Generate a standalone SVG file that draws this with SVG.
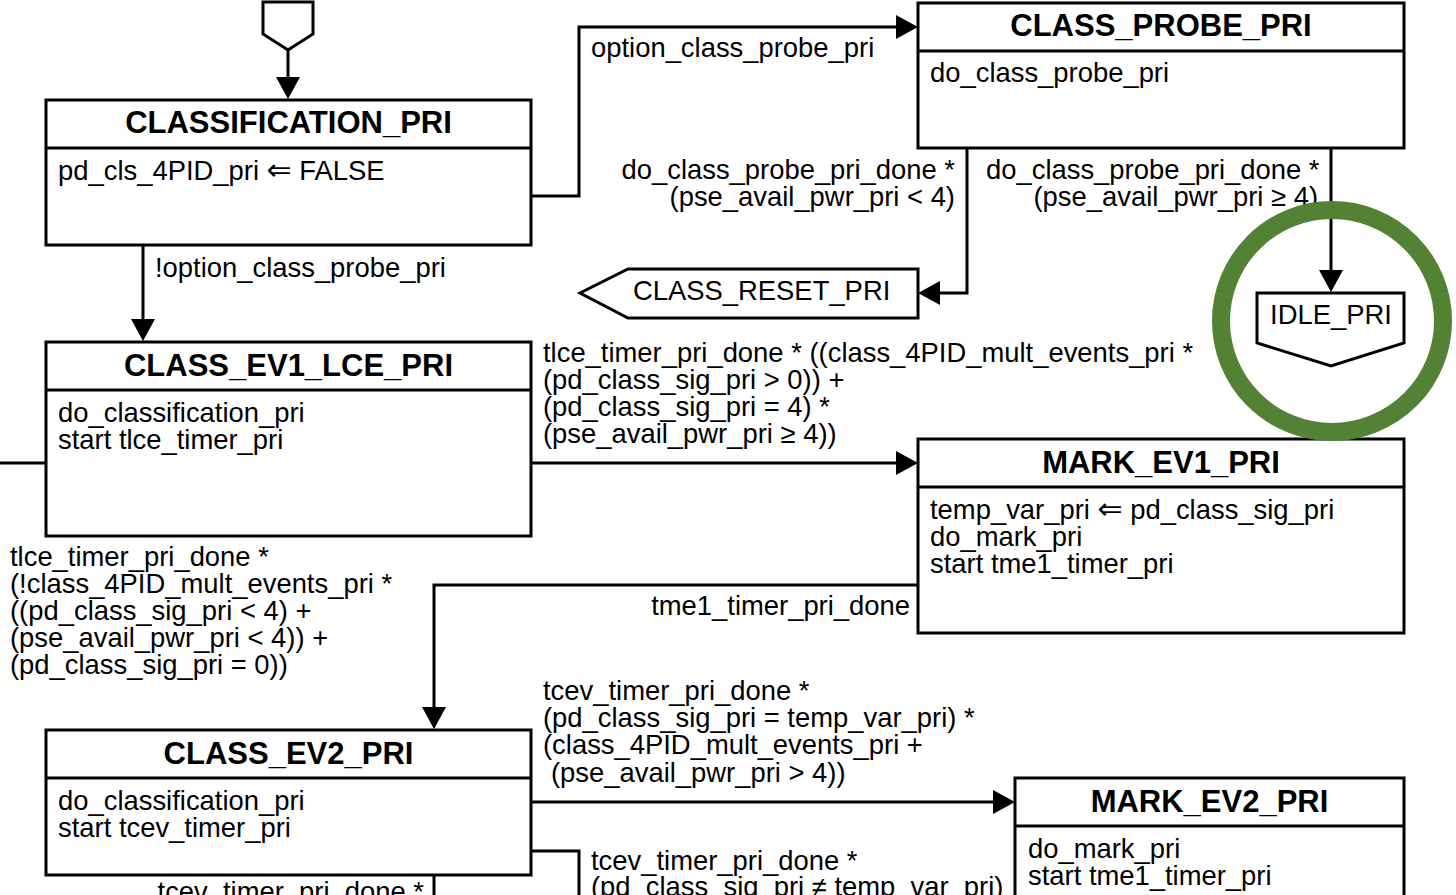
<svg xmlns="http://www.w3.org/2000/svg" width="1456" height="895" viewBox="0 0 1456 895">
<defs>
<style>
.box{fill:#fff;stroke:#000;stroke-width:3}
.dv{fill:none;stroke:#000;stroke-width:3}
.t{font-family:"Liberation Sans",Arial,Helvetica,sans-serif;font-size:31px;font-weight:bold;text-anchor:middle;fill:#000}
.b{font-family:"Liberation Sans",Arial,Helvetica,"DejaVu Sans",sans-serif;font-size:27.4px;fill:#000}
.e{text-anchor:end}
.c{fill:none;stroke:#000;stroke-width:3}
.a{marker-end:url(#ah)}
.ar{font-family:"DejaVu Sans",sans-serif;font-size:30px}
</style>
<marker id="ah" markerUnits="userSpaceOnUse" markerWidth="22" markerHeight="24" refX="12" refY="12" orient="auto" viewBox="0 0 22 24">
<path d="M0,0 L22,12 L0,24 Z" fill="#000"/>
</marker>
</defs>
<rect width="1456" height="895" fill="#fff"/>

<g id="entry">
<polygon class="box" points="263,2 313,2 313,34 288,50 263,34"/>
</g>

<g id="classification_pri">
<rect class="box" x="46" y="100" width="485" height="145"/>
<line class="dv" x1="46" y1="148" x2="531" y2="148"/>
<text class="t" x="288.5" y="133">CLASSIFICATION_PRI</text>
<text class="b" x="58" y="180">pd_cls_4PID_pri <tspan class="ar">⇐</tspan> FALSE</text>
</g>

<g id="class_probe_pri">
<rect class="box" x="918" y="3" width="486" height="145"/>
<line class="dv" x1="918" y1="51" x2="1404" y2="51"/>
<text class="t" x="1161" y="36">CLASS_PROBE_PRI</text>
<text class="b" x="930" y="82">do_class_probe_pri</text>
</g>

<g id="class_reset_pri">
<polygon class="box" points="580,293 628,269 918,269 918,318 628,318"/>
<text class="b" x="633" y="300">CLASS_RESET_PRI</text>
</g>

<g id="idle_pri">
<polygon class="box" points="1257,293 1404,293 1404,343 1331,366 1257,343"/>
<text class="b" x="1331" y="324" text-anchor="middle">IDLE_PRI</text>
</g>

<g id="class_ev1_lce_pri">
<rect class="box" x="46" y="342" width="485" height="194"/>
<line class="dv" x1="46" y1="390" x2="531" y2="390"/>
<text class="t" x="288.5" y="376">CLASS_EV1_LCE_PRI</text>
<text class="b" x="58" y="422">do_classification_pri</text>
<text class="b" x="58" y="449">start tlce_timer_pri</text>
</g>

<g id="mark_ev1_pri">
<rect class="box" x="918" y="439" width="486" height="194"/>
<line class="dv" x1="918" y1="487" x2="1404" y2="487"/>
<text class="t" x="1161" y="473">MARK_EV1_PRI</text>
<text class="b" x="930" y="519">temp_var_pri <tspan class="ar">⇐</tspan> pd_class_sig_pri</text>
<text class="b" x="930" y="546">do_mark_pri</text>
<text class="b" x="930" y="573">start tme1_timer_pri</text>
</g>

<g id="class_ev2_pri">
<rect class="box" x="46" y="730" width="485" height="145"/>
<line class="dv" x1="46" y1="778" x2="531" y2="778"/>
<text class="t" x="288.5" y="764">CLASS_EV2_PRI</text>
<text class="b" x="58" y="810">do_classification_pri</text>
<text class="b" x="58" y="837">start tcev_timer_pri</text>
</g>

<g id="mark_ev2_pri">
<rect class="box" x="1015" y="778" width="389" height="140"/>
<line class="dv" x1="1015" y1="826" x2="1404" y2="826"/>
<text class="t" x="1209.5" y="812">MARK_EV2_PRI</text>
<text class="b" x="1028" y="858">do_mark_pri</text>
<text class="b" x="1028" y="885">start tme1_timer_pri</text>
</g>

<g id="connectors">
<path class="c a" d="M288,50 V89"/>
<path class="c a" d="M531,196 H579 V27 H908"/>
<path class="c a" d="M143,245 V331"/>
<path class="c a" d="M967,148 V293 H928"/>
<path class="c a" d="M1331,148 V282"/>
<path class="c a" d="M531,463 H908"/>
<path class="c" d="M0,463 H46"/>
<path class="c a" d="M918,585 H434 V719"/>
<path class="c a" d="M531,802 H1005"/>
<path class="c" d="M531,851 H579 V897"/>
<path class="c" d="M434,875 V897"/>

<text class="b" x="591" y="57">option_class_probe_pri</text>
<text class="b" x="155" y="277">!option_class_probe_pri</text>
<text class="b e" x="955" y="179">do_class_probe_pri_done *</text>
<text class="b e" x="955" y="206">(pse_avail_pwr_pri &lt; 4)</text>
<text class="b" x="986" y="179">do_class_probe_pri_done *</text>
<text class="b e" x="1318" y="206">(pse_avail_pwr_pri ≥ 4)</text>
<text class="b" x="543" y="362">tlce_timer_pri_done * ((class_4PID_mult_events_pri *</text>
<text class="b" x="543" y="389">(pd_class_sig_pri &gt; 0)) +</text>
<text class="b" x="543" y="416">(pd_class_sig_pri = 4) *</text>
<text class="b" x="543" y="443">(pse_avail_pwr_pri ≥ 4))</text>
<text class="b" x="10" y="566">tlce_timer_pri_done *</text>
<text class="b" x="10" y="593">(!class_4PID_mult_events_pri *</text>
<text class="b" x="10" y="620">((pd_class_sig_pri &lt; 4) +</text>
<text class="b" x="10" y="647">(pse_avail_pwr_pri &lt; 4)) +</text>
<text class="b" x="10" y="674">(pd_class_sig_pri = 0))</text>
<text class="b e" x="910" y="615">tme1_timer_pri_done</text>
<text class="b" x="543" y="700">tcev_timer_pri_done *</text>
<text class="b" x="543" y="727">(pd_class_sig_pri = temp_var_pri) *</text>
<text class="b" x="543" y="754">(class_4PID_mult_events_pri +</text>
<text class="b" x="551" y="782">(pse_avail_pwr_pri &gt; 4))</text>
<text class="b" x="591" y="870">tcev_timer_pri_done *</text>
<text class="b" x="591" y="896">(pd_class_sig_pri ≠ temp_var_pri)</text>
<text class="b e" x="424" y="901">tcev_timer_pri_done *</text>
</g>

<g id="highlight">
<circle cx="1332" cy="321" r="111" fill="none" stroke="#548235" stroke-width="18"/>
</g>
</svg>
